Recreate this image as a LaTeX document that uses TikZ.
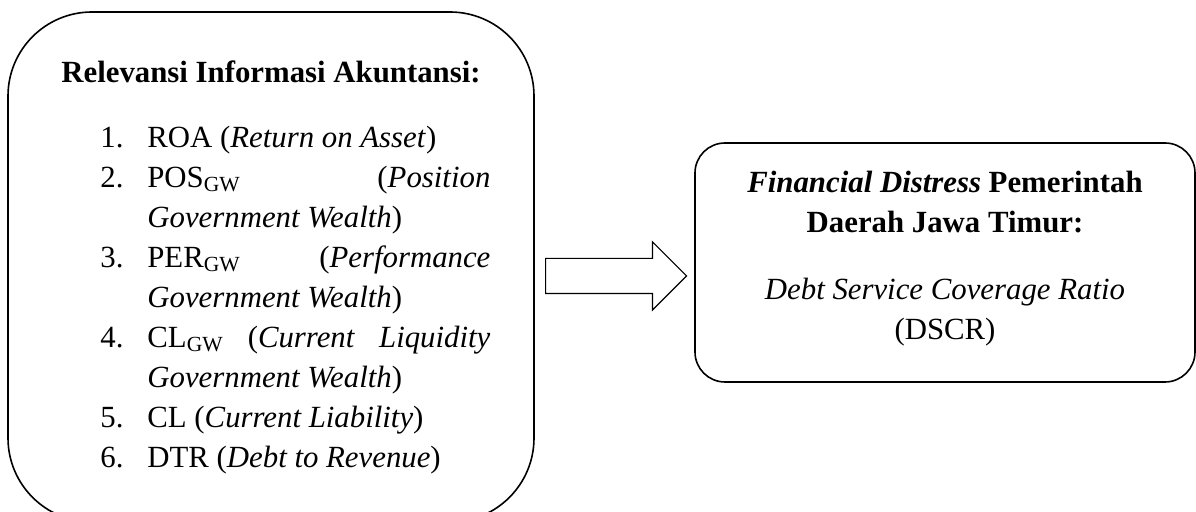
\documentclass[tikz,border=0pt]{standalone}
\usepackage{fontspec}
\setmainfont{Liberation Serif}
\usetikzlibrary{positioning,shapes.arrows}

\newcommand{\gw}{\textsubscript{GW}}

\begin{document}
\begin{tikzpicture}[x=0.5pt, y=-0.5pt, font=\fontsize{15.4}{20}\selectfont,
  box/.style={draw, line width=0.8pt, inner sep=0pt}]
\useasboundingbox (0,0) rectangle (1196,512);
\clip (0,0) rectangle (1196,512);
\node (lbox) [box, rounded corners=42pt, minimum width=263pt, minimum height=255pt] at (271,267) {};
\node (ltitle) [anchor=base] at (271,83) {\textbf{Relevansi Informasi Akuntansi:}};
\node (litems) [anchor=north west, inner sep=0pt] at (100,119) {%
  \begin{tabular}{@{}p{23.5pt}@{}p{171.5pt}@{}}
  1. & ROA (\textit{Return on Asset})\\
  2. & POS\gw{} \hfill (\textit{Position}\newline\textit{Government Wealth})\\
  3. & PER\gw{} \hfill (\textit{Performance}\newline\textit{Government Wealth})\\
  4. & CL\gw{} \hfill (\textit{Current} \hfill \textit{Liquidity}\newline\textit{Government Wealth})\\
  5. & CL (\textit{Current Liability})\\
  6. & DTR (\textit{Debt to Revenue})
  \end{tabular}};
\node (rbox) [box, rounded corners=15pt, minimum width=250pt, minimum height=119.5pt] at (945,262.5) {};
\node (rtext) [align=center, yshift=2pt] at (rbox.center)
  {\textbf{\textit{Financial Distress} Pemerintah}\\ \textbf{Daerah Jawa Timur:}\\[13.5pt]
   \textit{Debt Service Coverage Ratio}\\ (DSCR)};
\node (arr) [draw, single arrow, line width=0.6pt, minimum height=70.5pt, minimum width=33.5pt,
  single arrow head extend=8.25pt, inner xsep=0pt, inner ysep=8.5pt, anchor=tail] at (545,276) {};
\end{tikzpicture}
\end{document}
